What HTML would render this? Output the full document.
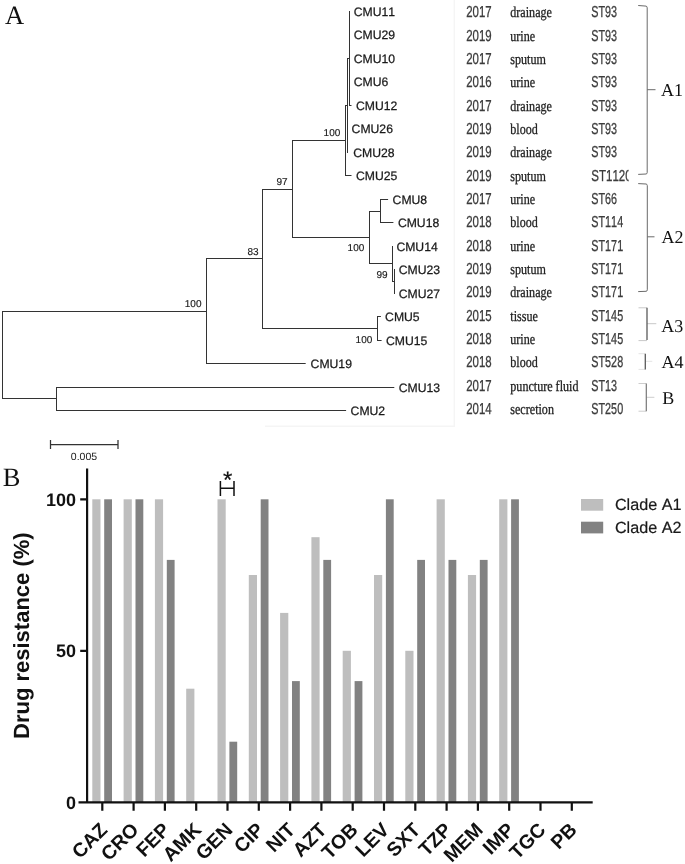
<!DOCTYPE html>
<html><head><meta charset="utf-8"><title>Figure</title>
<style>html,body{margin:0;padding:0;background:#fff}body{width:685px;height:864px;overflow:hidden}svg{display:block;text-rendering:geometricPrecision;font-kerning:none}.sa{font-family:"Liberation Sans",Arial,sans-serif}.se{font-family:"Liberation Serif","Times New Roman",serif}</style></head><body>
<svg width="685" height="864" viewBox="0 0 685 864">
<rect width="685" height="864" fill="#fff"/>
<path d="M454.3 0V426.3H265" fill="none" stroke="#f5f5f5" stroke-width="1.4"/>
<path d="M2.5 311.0V399.0M2.0 311.5H206.1M2.0 398.5H56.7M56.5 387.0V411.0M56.0 387.5H394.3M56.0 410.5H346.1M206.5 258.0V364.0M206.0 363.5H305.7M206.0 258.5H262.6M262.5 189.0V329.0M262.0 189.5H292.5M262.0 328.5H377.7M377.5 316.0V341.0M377.0 316.5H380.9M377.0 340.5H381.6M292.5 140.0V238.0M292.0 140.5H345.0M292.0 237.5H369.3M369.5 211.0V264.0M369.0 211.5H380.6M380.5 199.0V223.0M380.0 199.5H388.1M380.0 222.5H393.4M369.0 263.5H392.2M392.5 246.0V282.0M392.0 281.5H394.1M394.5 269.0V294.0M345.5 105.0V176.0M345.0 175.5H351.5M345.0 105.5H347.2M347.5 58.0V153.0M347.0 58.5H349.3M349.5 11.0V106.0M349.0 105.5H351.5" fill="none" stroke="#333" stroke-width="1"/>
<g class="sa" font-size="12.2" fill="#1a1a1a" stroke="#1a1a1a" stroke-width="0.25">
<text x="353.7" y="15.7">CMU11</text>
<text x="353.7" y="39.2">CMU29</text>
<text x="353.7" y="62.7">CMU10</text>
<text x="353.7" y="86.2">CMU6</text>
<text x="356.0" y="109.7">CMU12</text>
<text x="351.6" y="133.2">CMU26</text>
<text x="353.2" y="156.6">CMU28</text>
<text x="356.0" y="180.1">CMU25</text>
<text x="392.6" y="203.6">CMU8</text>
<text x="397.9" y="227.1">CMU18</text>
<text x="396.4" y="250.6">CMU14</text>
<text x="398.7" y="274.1">CMU23</text>
<text x="398.7" y="297.6">CMU27</text>
<text x="385.1" y="321.1">CMU5</text>
<text x="386.0" y="344.6">CMU15</text>
<text x="310.6" y="368.0">CMU19</text>
<text x="398.7" y="391.5">CMU13</text>
<text x="350.6" y="415.0">CMU2</text>
</g>
<g class="sa" font-size="10" fill="#1a1a1a" stroke="#1a1a1a" stroke-width="0.15" text-anchor="end">
<text x="340.3" y="136.3">100</text>
<text x="287.5" y="184.9">97</text>
<text x="258.5" y="254.7">83</text>
<text x="201.5" y="306.9">100</text>
<text x="364.3" y="251.4">100</text>
<text x="387.6" y="277.7">99</text>
<text x="372.3" y="342.6">100</text>
</g>
<path d="M50.5 440V449M118 440V449M50.5 444.5H118" stroke="#333" stroke-width="1.25" fill="none"/>
<text class="sa" font-size="10.5" fill="#1a1a1a" x="84" y="459.8" text-anchor="middle">0.005</text>
<defs><clipPath id="c"><rect x="455" y="0" width="173.6" height="430"/></clipPath></defs>
<g clip-path="url(#c)">
<g class="sa" font-size="15.9" fill="#3c3c3c" stroke="#3c3c3c" stroke-width="0.3">
<text transform="translate(466.2 17.3) scale(0.72 1)">2017</text>
<text transform="translate(591.3 17.3) scale(0.68 1)">ST93</text>
<text transform="translate(466.2 40.6) scale(0.72 1)">2019</text>
<text transform="translate(591.3 40.6) scale(0.68 1)">ST93</text>
<text transform="translate(466.2 64.0) scale(0.72 1)">2017</text>
<text transform="translate(591.3 64.0) scale(0.68 1)">ST93</text>
<text transform="translate(466.2 87.3) scale(0.72 1)">2016</text>
<text transform="translate(591.3 87.3) scale(0.68 1)">ST93</text>
<text transform="translate(466.2 110.6) scale(0.72 1)">2017</text>
<text transform="translate(591.3 110.6) scale(0.68 1)">ST93</text>
<text transform="translate(466.2 134.0) scale(0.72 1)">2019</text>
<text transform="translate(591.3 134.0) scale(0.68 1)">ST93</text>
<text transform="translate(466.2 157.3) scale(0.72 1)">2019</text>
<text transform="translate(591.3 157.3) scale(0.68 1)">ST93</text>
<text transform="translate(466.2 180.6) scale(0.72 1)">2019</text>
<text transform="translate(591.3 180.6) scale(0.725 1)">ST1120</text>
<text transform="translate(466.2 204.0) scale(0.72 1)">2017</text>
<text transform="translate(591.3 204.0) scale(0.68 1)">ST66</text>
<text transform="translate(466.2 227.3) scale(0.72 1)">2018</text>
<text transform="translate(591.3 227.3) scale(0.68 1)">ST114</text>
<text transform="translate(466.2 250.7) scale(0.72 1)">2018</text>
<text transform="translate(591.3 250.7) scale(0.68 1)">ST171</text>
<text transform="translate(466.2 274.0) scale(0.72 1)">2019</text>
<text transform="translate(591.3 274.0) scale(0.68 1)">ST171</text>
<text transform="translate(466.2 297.3) scale(0.72 1)">2019</text>
<text transform="translate(591.3 297.3) scale(0.68 1)">ST171</text>
<text transform="translate(466.2 320.7) scale(0.72 1)">2015</text>
<text transform="translate(591.3 320.7) scale(0.68 1)">ST145</text>
<text transform="translate(466.2 344.0) scale(0.72 1)">2018</text>
<text transform="translate(591.3 344.0) scale(0.68 1)">ST145</text>
<text transform="translate(466.2 367.3) scale(0.72 1)">2018</text>
<text transform="translate(591.3 367.3) scale(0.68 1)">ST528</text>
<text transform="translate(466.2 390.7) scale(0.72 1)">2017</text>
<text transform="translate(591.3 390.7) scale(0.68 1)">ST13</text>
<text transform="translate(466.2 414.0) scale(0.72 1)">2014</text>
<text transform="translate(591.3 414.0) scale(0.68 1)">ST250</text>
</g>
<g class="se" font-size="15" fill="#222" stroke="#222" stroke-width="0.3">
<text transform="translate(510.3 17.3) scale(0.806 1)">drainage</text>
<text transform="translate(510.3 40.6) scale(0.806 1)">urine</text>
<text transform="translate(510.3 64.0) scale(0.806 1)">sputum</text>
<text transform="translate(510.3 87.3) scale(0.806 1)">urine</text>
<text transform="translate(510.3 110.6) scale(0.806 1)">drainage</text>
<text transform="translate(510.3 134.0) scale(0.806 1)">blood</text>
<text transform="translate(510.3 157.3) scale(0.806 1)">drainage</text>
<text transform="translate(510.3 180.6) scale(0.806 1)">sputum</text>
<text transform="translate(510.3 204.0) scale(0.806 1)">urine</text>
<text transform="translate(510.3 227.3) scale(0.806 1)">blood</text>
<text transform="translate(510.3 250.7) scale(0.806 1)">urine</text>
<text transform="translate(510.3 274.0) scale(0.806 1)">sputum</text>
<text transform="translate(510.3 297.3) scale(0.806 1)">drainage</text>
<text transform="translate(510.3 320.7) scale(0.806 1)">tissue</text>
<text transform="translate(510.3 344.0) scale(0.806 1)">urine</text>
<text transform="translate(510.3 367.3) scale(0.806 1)">blood</text>
<text transform="translate(510.3 390.7) scale(0.806 1)">puncture fluid</text>
<text transform="translate(510.3 414.0) scale(0.806 1)">secretion</text>
</g></g>
<path d="M638.2 5.5L646 6.1Q647.2 6.3 647.2 7.8V172.6Q647.2 173.9 646 174L638.2 174.4M647.2 89.7H655.5" fill="none" stroke="#6a6a6a" stroke-width="1"/>
<path d="M638.2 183.6L646.1 184Q647.3 184.2 647.3 185.6V289.8Q647.3 291.2 646.1 291.3L638.2 291.6M647.3 236.8H654.5" fill="none" stroke="#6a6a6a" stroke-width="1"/>
<path d="M638.5 307.8H647M638.5 340.6H647M647 323.7H656.3" fill="none" stroke="#c8c8c8" stroke-width="1"/><path d="M647 307.8V340" fill="none" stroke="#5a5a5a" stroke-width="1.3"/>
<path d="M638.5 353.7H645.3M638.5 369.4H645.3M645.3 361.3H652.3" fill="none" stroke="#e4e4e4" stroke-width="1"/><path d="M645.3 353.7V369.4" fill="none" stroke="#5a5a5a" stroke-width="1.3"/>
<path d="M638.5 383.5H646.3M638.5 411.2H646.3M646.3 397.3H654.4" fill="none" stroke="#cdcdcd" stroke-width="1"/><path d="M646.3 383.5V411.2" fill="none" stroke="#777" stroke-width="1.2"/>
<g class="se" font-size="18" fill="#111">
<text x="661.0" y="95.7">A1</text>
<text x="661.5" y="242.9">A2</text>
<text x="661.2" y="331.7">A3</text>
<text x="661.6" y="367.8">A4</text>
<text x="662.3" y="404.3">B</text>
</g>
<text class="se" font-size="26.5" fill="#111" x="5" y="23.6">A</text>
<text class="se" font-size="26.5" fill="#111" x="2.8" y="485.8">B</text>
<g fill="#bebebe">
<rect x="92.3" y="499.3" width="8.2" height="302.7"/>
<rect x="123.6" y="499.3" width="8.2" height="302.7"/>
<rect x="154.9" y="499.3" width="8.2" height="302.7"/>
<rect x="186.2" y="688.7" width="8.2" height="113.3"/>
<rect x="217.5" y="499.3" width="8.2" height="302.7"/>
<rect x="248.8" y="575.0" width="8.2" height="227.0"/>
<rect x="280.1" y="612.9" width="8.2" height="189.1"/>
<rect x="311.4" y="537.2" width="8.2" height="264.8"/>
<rect x="342.7" y="650.8" width="8.2" height="151.2"/>
<rect x="374.0" y="575.0" width="8.2" height="227.0"/>
<rect x="405.3" y="650.8" width="8.2" height="151.2"/>
<rect x="436.6" y="499.3" width="8.2" height="302.7"/>
<rect x="467.9" y="575.0" width="8.2" height="227.0"/>
<rect x="499.2" y="499.3" width="8.2" height="302.7"/>
</g><g fill="#828282">
<rect x="104.2" y="499.3" width="7.8" height="302.7"/>
<rect x="135.5" y="499.3" width="7.8" height="302.7"/>
<rect x="166.8" y="559.9" width="7.8" height="242.1"/>
<rect x="229.4" y="741.7" width="7.8" height="60.3"/>
<rect x="260.7" y="499.3" width="7.8" height="302.7"/>
<rect x="292.0" y="681.1" width="7.8" height="120.9"/>
<rect x="323.3" y="559.9" width="7.8" height="242.1"/>
<rect x="354.6" y="681.1" width="7.8" height="120.9"/>
<rect x="385.9" y="499.3" width="7.8" height="302.7"/>
<rect x="417.2" y="559.9" width="7.8" height="242.1"/>
<rect x="448.5" y="559.9" width="7.8" height="242.1"/>
<rect x="479.8" y="559.9" width="7.8" height="242.1"/>
<rect x="511.1" y="499.3" width="7.8" height="302.7"/>
</g>
<path d="M87.1 468.5V803.4M78.5 802.3H592.7M80.2 650.8H87M80.2 499.3H87M102.3 802.3V810.7M133.6 802.3V810.7M164.9 802.3V810.7M196.2 802.3V810.7M227.5 802.3V810.7M258.8 802.3V810.7M290.1 802.3V810.7M321.4 802.3V810.7M352.7 802.3V810.7M384.0 802.3V810.7M415.3 802.3V810.7M446.6 802.3V810.7M477.9 802.3V810.7M509.2 802.3V810.7M540.5 802.3V810.7M571.8 802.3V810.7" fill="none" stroke="#111" stroke-width="2.2"/>
<g class="sa" font-weight="bold" font-size="18" fill="#111" text-anchor="end">
<text x="76" y="808.9">0</text>
<text x="76" y="657.4">50</text>
<text x="76" y="505.9">100</text>
</g>
<g class="sa" font-weight="bold" font-size="19.6" fill="#111" text-anchor="end">
<text transform="translate(108.5 831) rotate(-45)">CAZ</text>
<text transform="translate(139.8 831) rotate(-45)">CRO</text>
<text transform="translate(171.1 831) rotate(-45)">FEP</text>
<text transform="translate(202.4 831) rotate(-45)">AMK</text>
<text transform="translate(233.7 831) rotate(-45)">GEN</text>
<text transform="translate(265.0 831) rotate(-45)">CIP</text>
<text transform="translate(296.3 831) rotate(-45)">NIT</text>
<text transform="translate(327.6 831) rotate(-45)">AZT</text>
<text transform="translate(358.9 831) rotate(-45)">TOB</text>
<text transform="translate(390.2 831) rotate(-45)">LEV</text>
<text transform="translate(421.5 831) rotate(-45)">SXT</text>
<text transform="translate(452.8 831) rotate(-45)">TZP</text>
<text transform="translate(484.1 831) rotate(-45)">MEM</text>
<text transform="translate(515.4 831) rotate(-45)">IMP</text>
<text transform="translate(546.7 831) rotate(-45)">TGC</text>
<text transform="translate(578.0 831) rotate(-45)">PB</text>
</g>
<text class="sa" font-weight="bold" font-size="22" fill="#111" transform="translate(29.2 739) rotate(-90)">Drug resistance (%)</text>
<path d="M220.4 481V496M234 481V496M220.4 488.3H234" fill="none" stroke="#111" stroke-width="1.5"/>
<text class="sa" font-size="24" fill="#111" stroke="#111" stroke-width="0.2" x="227.7" y="488.1" text-anchor="middle">*</text>
<rect x="581" y="499" width="22.2" height="11.7" fill="#bebebe"/><rect x="581" y="521.7" width="22.2" height="11.7" fill="#828282"/>
<g class="sa" font-size="16.2" fill="#1a1a1a" stroke="#1a1a1a" stroke-width="0.2"><text x="614.9" y="509.5">Clade A1</text><text x="614.9" y="532.7">Clade A2</text></g>
</svg></body></html>
